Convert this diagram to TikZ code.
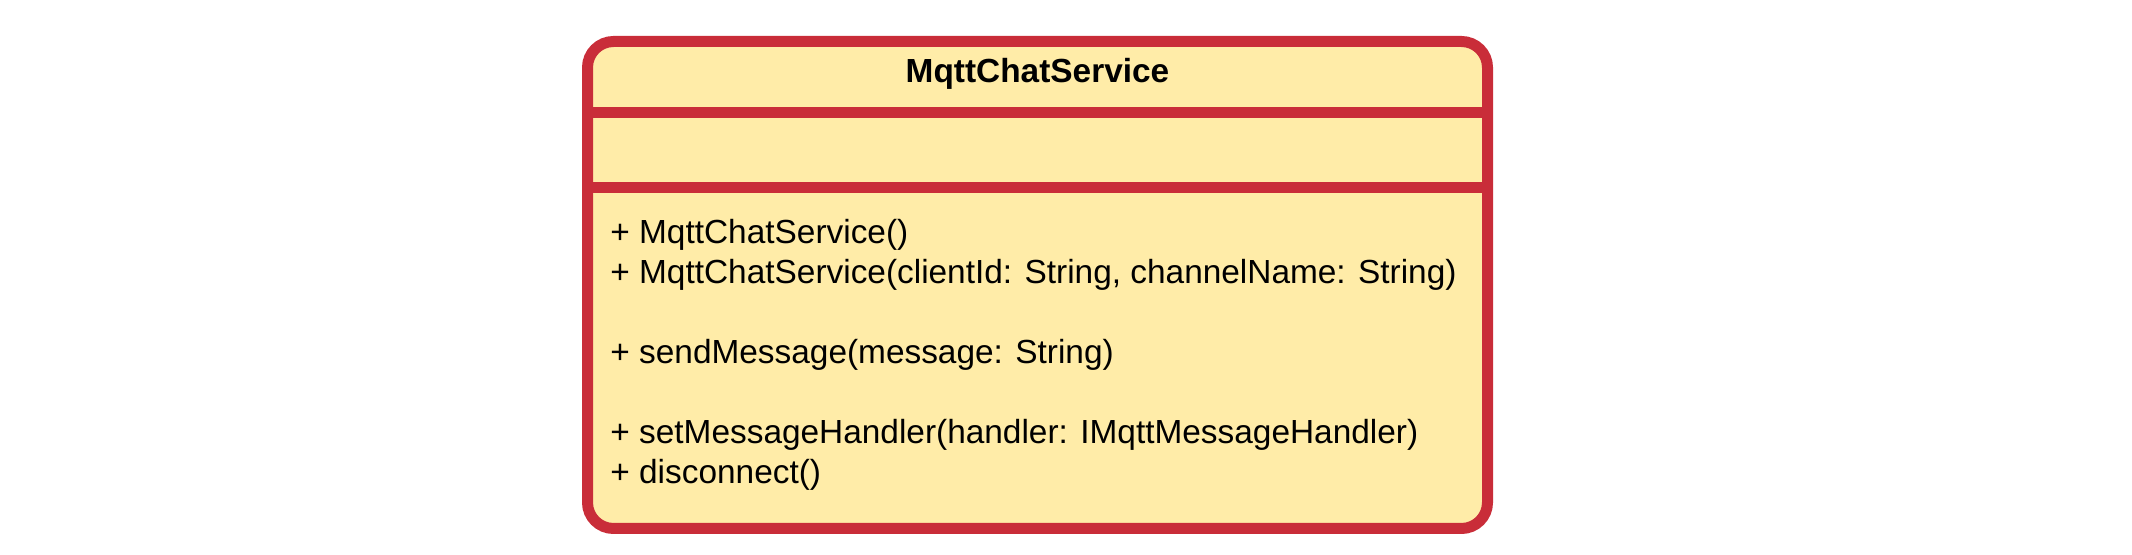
\documentclass[tikz,border=0pt]{standalone}
\usepackage{fontspec}
\setmainfont{Liberation Sans}
\usepackage{xcolor}
\usetikzlibrary{positioning}
\definecolor{umlred}{HTML}{C92D39}
\definecolor{umlfill}{HTML}{FFECA8}
\tikzstyle{classbox} = [draw=umlred, fill=umlfill, line width=5.5pt, rounded corners=13pt, minimum width=450pt, minimum height=243.5pt, inner sep=0pt]
\tikzstyle{divider} = [draw=umlred, line width=5.5pt]
\tikzstyle{classname} = [anchor=base, inner sep=0pt, font=\fontsize{16.7}{20}\selectfont\bfseries]
\tikzstyle{member} = [anchor=base west, inner sep=0pt, font=\fontsize{16.7}{20}\selectfont]

\begin{document}
\begin{tikzpicture}[x=0.5pt, y=0.5pt]
		\useasboundingbox (0,0) rectangle (2132,-555);
		\node (box) [classbox] at (1037.5,-285) {};
		\node (name) [classname] at (1037.5,-83) {MqttChatService};

		\coordinate (div1) at (0,-112.5);
		\coordinate (div2) at (0,-187.5);
		\draw [divider] (box.west |- div1) -- (box.east |- div1);
		\draw [divider] (box.west |- div2) -- (box.east |- div2);

		\node (ctor1) [member] at (610,-244) {+ MqttChatService()};
		\node (ctor2) [member, below=20pt of ctor1.base west, anchor=base west] {+ MqttChatService(clientId: String, channelName: String)};
		\node (send) [member, below=40pt of ctor2.base west, anchor=base west] {+ sendMessage(message: String)};
		\node (handler) [member, below=40pt of send.base west, anchor=base west] {+ setMessageHandler(handler: IMqttMessageHandler)};
		\node (disc) [member, below=20pt of handler.base west, anchor=base west] {+ disconnect()};
	\end{tikzpicture}
\end{document}
